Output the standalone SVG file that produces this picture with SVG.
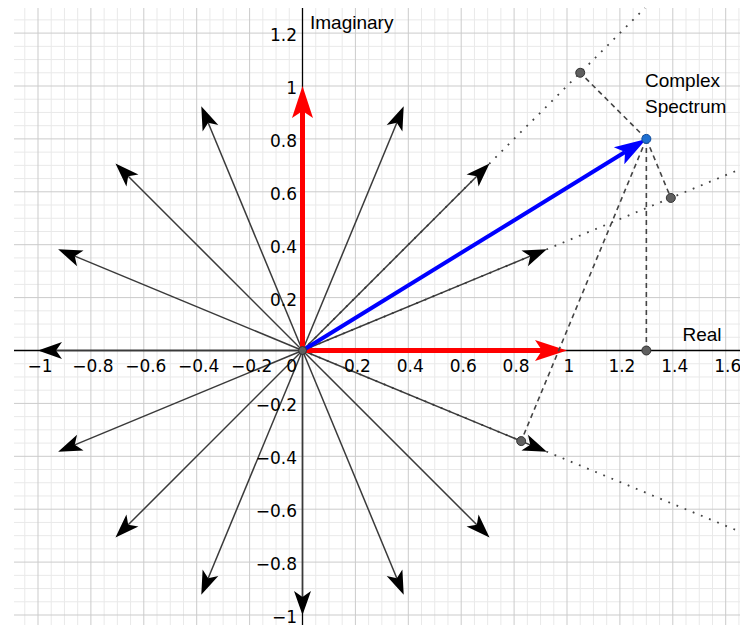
<svg xmlns="http://www.w3.org/2000/svg" width="740" height="625" viewBox="0 0 740 625">
<style>
.minor{stroke:#e9e9e9;stroke-width:1;fill:none}
.major{stroke:#cbcbcb;stroke-width:1;fill:none}
.axis{stroke:#000;stroke-width:1.3;fill:none}
.spoke{stroke:#3a3a3a;stroke-width:1.5;fill:none;marker-end:url(#ah)}
.dotted{stroke:#444;stroke-width:1.8;fill:none;stroke-dasharray:1.8 7}
.dashed{stroke:#444;stroke-width:1.6;fill:none;stroke-dasharray:5 4}
.pt{fill:#5f5f5f;stroke:#333;stroke-width:1}
.num{font-family:"DejaVu Sans",sans-serif;font-size:17px;fill:#000}
.lbl{font-family:"Liberation Sans",Arial,sans-serif;font-size:19px;fill:#000}
</style>
<defs>
<marker id="ah" markerUnits="userSpaceOnUse" viewBox="-7 -10 26 20" markerWidth="26" markerHeight="20" refX="0" refY="0" orient="auto" overflow="visible">
<path d="M18,0 L-6,-8.5 L0,0 L-6,8.5 Z" fill="#000"/>
</marker>
<marker id="ahr" markerUnits="userSpaceOnUse" viewBox="-8 -11 34 22" markerWidth="34" markerHeight="22" refX="0" refY="0" orient="auto" overflow="visible">
<path d="M25,0 L-7,-10.5 L0,0 L-7,10.5 Z" fill="#ff0000"/>
</marker>
<marker id="ahb" markerUnits="userSpaceOnUse" viewBox="-8 -11 34 22" markerWidth="34" markerHeight="22" refX="0" refY="0" orient="auto" overflow="visible">
<path d="M25,0 L-7,-10 L0,0 L-7,10 Z" fill="#0000ff"/>
</marker>
</defs>
<rect width="740" height="625" fill="#fff"/>
<g id="grid">
<path class="minor" d="M24.78 8V625M51.23 8V625M64.45 8V625M77.68 8V625M104.13 8V625M117.35 8V625M130.58 8V625M157.03 8V625M170.25 8V625M183.48 8V625M209.93 8V625M223.15 8V625M236.38 8V625M262.83 8V625M276.05 8V625M289.28 8V625M315.73 8V625M328.95 8V625M342.18 8V625M368.63 8V625M381.85 8V625M395.08 8V625M421.53 8V625M434.75 8V625M447.98 8V625M474.43 8V625M487.65 8V625M500.88 8V625M527.33 8V625M540.55 8V625M553.78 8V625M580.23 8V625M593.45 8V625M606.68 8V625M633.13 8V625M646.35 8V625M659.58 8V625M686.03 8V625M699.25 8V625M712.48 8V625M738.93 8V625
M14 19.88H740M14 46.33H740M14 59.55H740M14 72.78H740M14 99.23H740M14 112.45H740M14 125.68H740M14 152.13H740M14 165.35H740M14 178.58H740M14 205.03H740M14 218.25H740M14 231.48H740M14 257.93H740M14 271.15H740M14 284.38H740M14 310.83H740M14 324.05H740M14 337.28H740M14 363.73H740M14 376.95H740M14 390.18H740M14 416.63H740M14 429.85H740M14 443.08H740M14 469.53H740M14 482.75H740M14 495.98H740M14 522.43H740M14 535.65H740M14 548.88H740M14 575.33H740M14 588.55H740M14 601.78H740"/>
<path class="major" d="M38 8V625M90.9 8V625M143.8 8V625M196.7 8V625M249.6 8V625M355.4 8V625M408.3 8V625M461.2 8V625M514.1 8V625M567 8V625M619.9 8V625M672.8 8V625M725.7 8V625
M14 33.1H740M14 86H740M14 138.9H740M14 191.8H740M14 244.7H740M14 297.6H740M14 403.4H740M14 456.3H740M14 509.2H740M14 562.1H740M14 615H740"/>
</g>
<g id="axes">
<path class="axis" d="M14 350.5H740M302.5 8V625"/>
</g>
<g id="connectors">
<path class="dotted" d="M302.5 350.5L645 8"/>
<path class="dotted" d="M302.5 350.5L740 169.28"/>
<path class="dotted" d="M302.5 350.5L740 531.72"/>
<path class="spoke" d="M302.5 350.5L530.24 256.17"/>
<path class="spoke" d="M302.5 350.5L476.81 176.19"/>
<path class="spoke" d="M302.5 350.5L396.83 122.76"/>
<path class="spoke" d="M302.5 350.5L208.17 122.76"/>
<path class="spoke" d="M302.5 350.5L128.19 176.19"/>
<path class="spoke" d="M302.5 350.5L74.76 256.17"/>
<path class="spoke" d="M302.5 350.5L56 350.5"/>
<path class="spoke" d="M302.5 350.5L74.76 444.83"/>
<path class="spoke" d="M302.5 350.5L128.19 524.81"/>
<path class="spoke" d="M302.5 350.5L208.17 578.24"/>
<path class="spoke" d="M302.5 350.5L302.5 597"/>
<path class="spoke" d="M302.5 350.5L396.83 578.24"/>
<path class="spoke" d="M302.5 350.5L476.81 524.81"/>
<path class="spoke" d="M302.5 350.5L530.24 444.83"/>
<path d="M302.5 350.5L542 350.5" stroke="#ff0000" stroke-width="5" fill="none" marker-end="url(#ahr)"/>
<path d="M302.5 350.5L302.5 111" stroke="#ff0000" stroke-width="5" fill="none" marker-end="url(#ahr)"/>
<path d="M302.5 350.5L625.06 152" stroke="#0000ff" stroke-width="4" fill="none" marker-end="url(#ahb)"/>
<path class="dashed" d="M646.35 138.9L646.35 350.5"/>
<path class="dashed" d="M646.35 138.9L580.23 72.77"/>
<path class="dashed" d="M646.35 138.9L670.82 197.94"/>
<path class="dashed" d="M646.35 138.9L521.19 441.09"/>
</g>
<g id="origin"><circle class="pt" cx="302.5" cy="350.5" r="4"/></g>
<g id="proj-real"><circle class="pt" cx="646.35" cy="350.5" r="4.5"/></g>
<g id="proj-45"><circle class="pt" cx="580.23" cy="72.77" r="4.5"/></g>
<g id="proj-22"><circle class="pt" cx="670.82" cy="197.94" r="4.5"/></g>
<g id="proj-m22"><circle class="pt" cx="521.19" cy="441.09" r="4.5"/></g>
<g id="spectrum">
<circle cx="646.35" cy="138.9" r="4.5" fill="#1e6fd0" stroke="#0b4a9c" stroke-width="1"/>
<text class="lbl" x="645" y="87">Complex</text>
<text class="lbl" x="645" y="113">Spectrum</text>
</g>
<g id="labels">
<text class="lbl" x="310" y="29">Imaginary</text>
<text class="lbl" x="682.5" y="341">Real</text>
<g class="num" text-anchor="middle">
<text x="40" y="372">−1</text>
<text x="92.9" y="372">−0.8</text>
<text x="145.8" y="372">−0.6</text>
<text x="198.7" y="372">−0.4</text>
<text x="251.6" y="372">−0.2</text>
<text x="291.7" y="372">0</text>
<text x="357.4" y="372">0.2</text>
<text x="410.3" y="372">0.4</text>
<text x="463.2" y="372">0.6</text>
<text x="516.1" y="372">0.8</text>
<text x="569" y="372">1</text>
<text x="621.9" y="372">1.2</text>
<text x="674.8" y="372">1.4</text>
<text x="727.7" y="372">1.6</text>
</g>
<g class="num" text-anchor="end">
<text x="297" y="41.1">1.2</text>
<text x="297" y="94">1</text>
<text x="297" y="146.9">0.8</text>
<text x="297" y="199.8">0.6</text>
<text x="297" y="252.7">0.4</text>
<text x="297" y="305.6">0.2</text>
<text x="297" y="411.4">−0.2</text>
<text x="297" y="464.3">−0.4</text>
<text x="297" y="517.2">−0.6</text>
<text x="297" y="570.1">−0.8</text>
<text x="297" y="622.5">−1</text>
</g>
</g>
</svg>
